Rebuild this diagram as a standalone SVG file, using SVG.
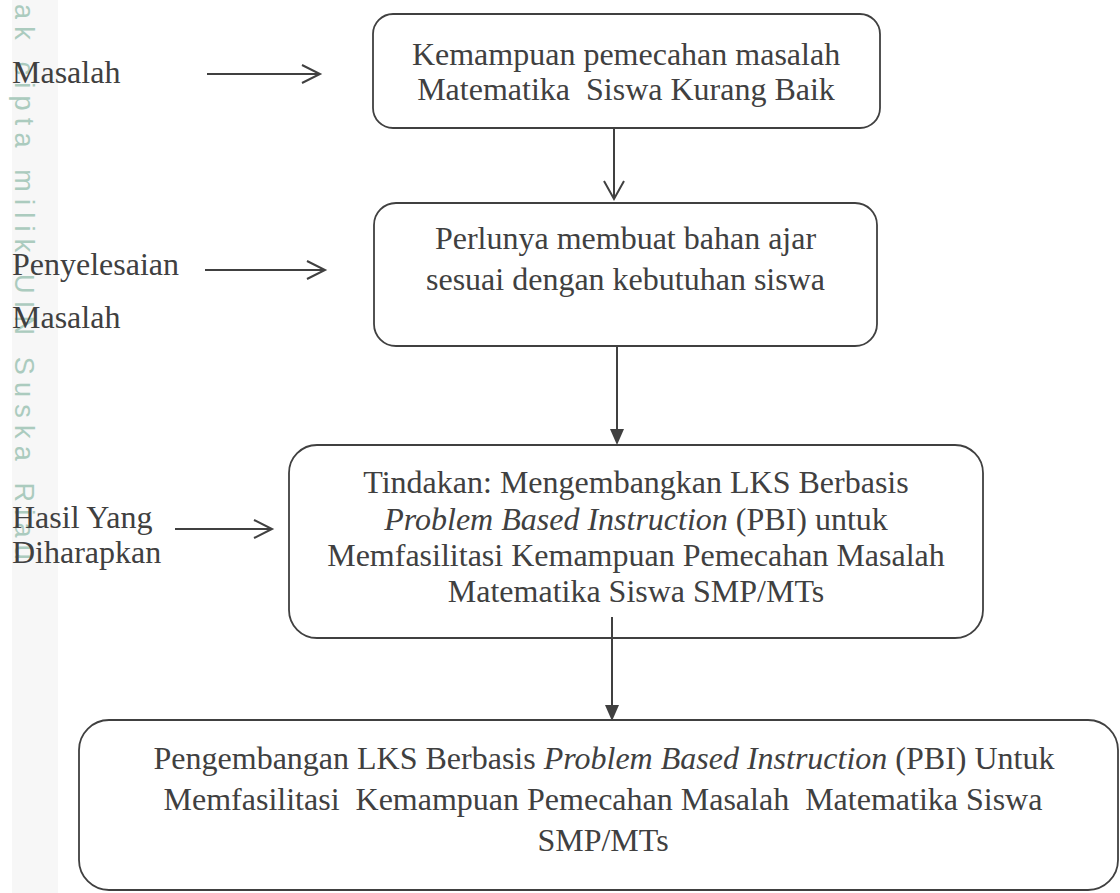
<svg xmlns="http://www.w3.org/2000/svg" width="1120" height="893" viewBox="0 0 1120 893">
  <defs>
    <style>
      .box { fill: none; stroke: #404040; stroke-width: 1.8; }
      .t { font-family: "Liberation Serif", "Times New Roman", serif; font-size: 32px; fill: #404040; }
      .c { text-anchor: middle; }
      .it { font-style: italic; }
      .ln { stroke: #404040; stroke-width: 2; fill: none; }
      .head { fill: #404040; stroke: none; }
      .wm { font-family: "Liberation Sans", Arial, sans-serif; font-size: 27px; fill: #abcbbe; letter-spacing: 7.2px; }
    </style>
  </defs>
  <rect x="0" y="0" width="1120" height="893" fill="#ffffff"/>
  <rect x="12" y="0" width="46" height="893" fill="#f7f7f7"/>
  <text class="wm" transform="translate(15,4) rotate(90)" x="0" y="0">ak cipta milik UIN Suska Riau</text>

  <g id="labels">
    <text class="t" x="12" y="83">Masalah</text>
    <text class="t" x="12" y="275">Penyelesaian</text>
    <text class="t" x="12" y="328">Masalah</text>
    <text class="t" x="12" y="528">Hasil Yang</text>
    <text class="t" x="12" y="563">Diharapkan</text>
  </g>

  <g id="connectors">
    <line class="ln" x1="207" y1="74" x2="320" y2="74"/>
    <polyline class="ln" points="302,65 320,74 302,83"/>
    <line class="ln" x1="205" y1="270" x2="325" y2="270"/>
    <polyline class="ln" points="307,261 325,270 307,279"/>
    <line class="ln" x1="175" y1="529" x2="272" y2="529"/>
    <polyline class="ln" points="254,520 272,529 254,538"/>

    <line class="ln" x1="614" y1="128" x2="614" y2="199"/>
    <polyline class="ln" points="604,181 614,199 624,181"/>
    <line class="ln" x1="617" y1="346" x2="617" y2="431"/>
    <polygon class="head" points="610,429 624,429 617,445"/>
    <line class="ln" x1="612" y1="617" x2="612" y2="707"/>
    <polygon class="head" points="605,705 619,705 612,721"/>
  </g>

  <g id="node1">
    <rect class="box" x="373" y="14" width="507" height="114" rx="20" ry="20"/>
    <text class="t c" x="626" y="65">Kemampuan pemecahan masalah</text>
    <text class="t c" x="626" y="100">Matematika&#160; Siswa Kurang Baik</text>
  </g>

  <g id="node2">
    <rect class="box" x="374" y="203" width="503" height="143" rx="22" ry="22"/>
    <text class="t c" x="625.5" y="249">Perlunya membuat bahan ajar</text>
    <text class="t c" x="625.5" y="290">sesuai dengan kebutuhan siswa</text>
  </g>

  <g id="node3">
    <rect class="box" x="289" y="445" width="694" height="193" rx="28" ry="28"/>
    <text class="t c" x="636" y="493">Tindakan: Mengembangkan LKS Berbasis</text>
    <text class="t c" x="636" y="530"><tspan class="it">Problem Based Instruction</tspan> (PBI) untuk</text>
    <text class="t c" x="636" y="566">Memfasilitasi Kemampuan Pemecahan Masalah</text>
    <text class="t c" x="636" y="602">Matematika Siswa SMP/MTs</text>
  </g>

  <g id="node4">
    <rect class="box" x="79" y="720" width="1039" height="170" rx="30" ry="30"/>
    <text class="t c" x="604" y="769">Pengembangan LKS Berbasis <tspan class="it">Problem Based Instruction</tspan> (PBI) Untuk</text>
    <text class="t c" x="603" y="810">Memfasilitasi&#160; Kemampuan Pemecahan Masalah&#160; Matematika Siswa</text>
    <text class="t c" x="603" y="851">SMP/MTs</text>
  </g>
</svg>
